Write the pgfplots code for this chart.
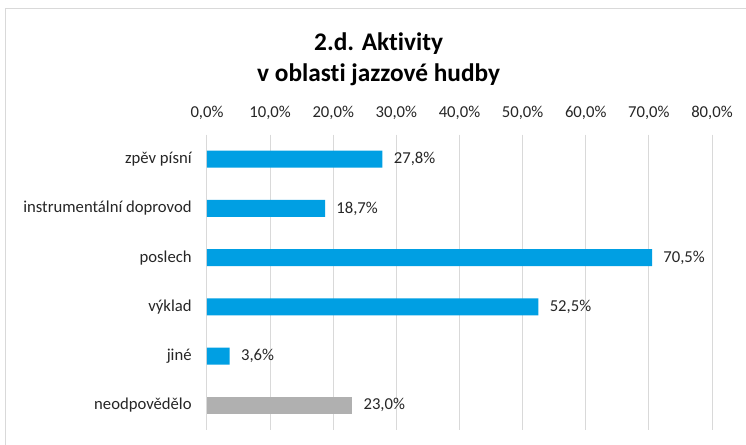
\documentclass[border=0pt]{standalone}
\usepackage{pgfplots}
\pgfplotsset{compat=1.18}
\usepackage{fontspec}
\setmainfont{Carlito}[Ligatures={NoCommon}]
\definecolor{barblue}{HTML}{009FE3}
\definecolor{bargrey}{HTML}{B0B0B0}
\definecolor{gridgrey}{HTML}{D9D9D9}
\definecolor{txt}{HTML}{262626}
\begin{document}
\begin{tikzpicture}
\useasboundingbox (0pt,0pt) rectangle (559.5pt,-333pt);
\clip (0pt,0pt) rectangle (559.5pt,-333pt);
\fill[white] (0pt,0pt) rectangle (559.5pt,-333pt);
\draw[gridgrey, line width=0.75pt] (3.75pt,-6pt) rectangle (600pt,-400pt);
\node[anchor=base, font=\bfseries\fontsize{19}{23}\selectfont, text=black] at (284pt,-37.5pt) {2.d. Aktivity};
\node[anchor=base, font=\bfseries\fontsize{19}{23}\selectfont, text=black] at (284pt,-60.75pt) {v oblasti jazzové hudby};
\begin{axis}[
  at={(155.25pt,-100.875pt)}, anchor=north west,
  scale only axis, width=378.75pt, height=221.6pt,
  xbar, bar width=12.75pt, bar shift=0pt,
  xmin=0, xmax=80, ymin=-0.5, ymax=5.5, y dir=reverse,
  xtick={0,10,...,80}, xticklabel pos=upper,
  xticklabel={\pgfmathprintnumber[fixed,fixed zerofill,precision=1,use comma]{\tick}\%},
  ytick={0,...,5},
  yticklabels={zpěv písní, instrumentální doprovod, poslech, výklad, jiné, neodpovědělo},
  axis line style={draw=none}, major tick length=0pt,
  xmajorgrids, grid style={gridgrey, line width=0.75pt},
  tick label style={font=\fontsize{12.5}{15}\selectfont, text=txt},
  /pgf/number format/assume math mode=true,
  xticklabel style={anchor=base, yshift=12.4pt},
  yticklabel style={anchor=east, xshift=-8pt},
  nodes near coords={\pgfmathprintnumber[fixed,fixed zerofill,precision=1,use comma]{\pgfplotspointmeta}\%},
  nodes near coords style={anchor=west, xshift=5pt, font=\fontsize{12.5}{15}\selectfont, text=txt},
  point meta=explicit,
  clip=false,
]
\addplot[draw=none, fill=barblue] coordinates {(27.8,0)[27.8] (18.7,1)[18.7] (70.5,2)[70.5] (52.5,3)[52.5] (3.6,4)[3.6]};
\addplot[draw=none, fill=bargrey] coordinates {(23.0,5)[23.0]};
\end{axis}
\end{tikzpicture}
\end{document}
